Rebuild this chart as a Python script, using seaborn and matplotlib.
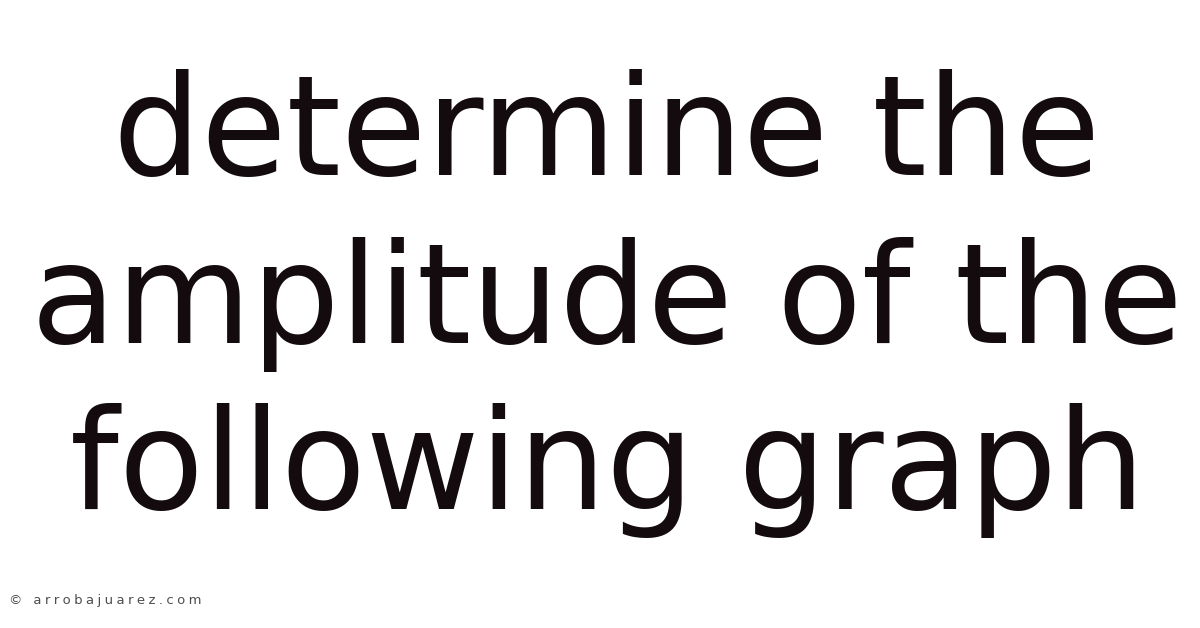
import matplotlib
matplotlib.use("Agg")
import matplotlib.pyplot as plt
import seaborn as sns

# Text content of the card
title_lines = ["determine the", "amplitude of the", "following graph"]
watermark = "© arrobajuarez.com"

sns.set_theme(style="white")
plt.rcParams['font.family'] = ['DejaVu Sans']

W, H = 1200, 628
fig, ax = plt.subplots(figsize=(W / 100, H / 100), dpi=100)
fig.subplots_adjust(left=0, right=1, top=1, bottom=0)
ax.set_xlim(0, W)
ax.set_ylim(H, 0)  # pixel-like coordinates, y grows downward
ax.axis("off")

# Big title, one text per line, baselines
baselines = [175, 343, 509]
for line, y in zip(title_lines, baselines):
    ax.text(607, y, line, ha="center", va="baseline",
            fontsize=100, color="#130b0d")

# small, letter-spaced watermark in the lower-left corner
spaced = "\u2005".join(watermark)
ax.text(9, 604, spaced, ha="left", va="baseline",
        fontsize=9.5, color="#4d4d4d")

fig.savefig("out.png", dpi=100, facecolor="white")
